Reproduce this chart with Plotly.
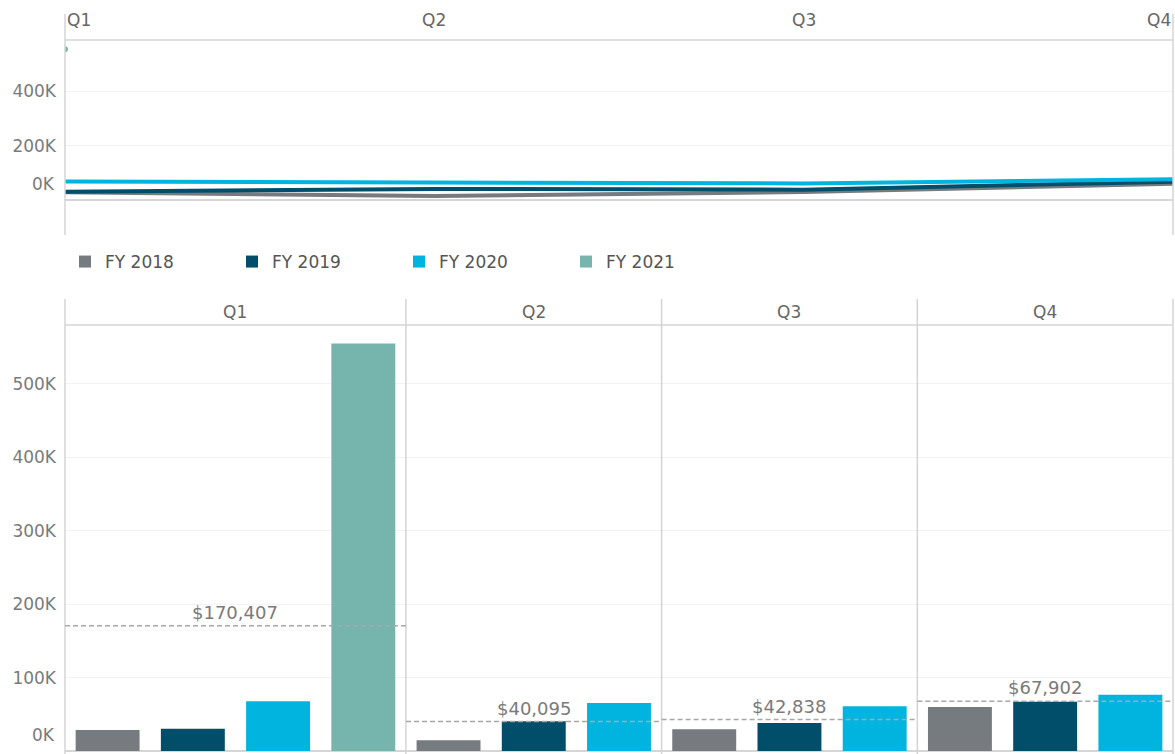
import plotly.graph_objects as go

# ---------------- data ----------------
quarters = ["Q1", "Q2", "Q3", "Q4"]
years = ["FY 2018", "FY 2019", "FY 2020", "FY 2021"]
fy2018 = [28600, 14500, 29500, 60000]
fy2019 = [30400, 40500, 38000, 67000]
fy2020 = [67700, 65300, 61000, 76700]
fy2021 = [554900, None, None, None]
quarter_avg = [170407, 40095, 42838, 67902]

top_ticks = [0, 200000, 400000]
bottom_ticks = [0, 100000, 200000, 300000, 400000, 500000]

colors = ["#767b80", "#004e6a", "#00b4e0", "#76b5ae"]
series = [fy2018, fy2019, fy2020, fy2021]

FONT = "DejaVu Sans"
GRAY_TXT = "#7a7a7a"
LINE_C = "#d4d4d4"
H = 754.0


def py(px):
    return 1 - px / H


def klabel(v):
    return f"{int(v / 1000)}K"


fig = go.Figure()

# ---------------- top line chart ----------------
for name, vals, c in zip(years, series, colors):
    pts = [(q, v) for q, v in zip(quarters, vals) if v is not None]
    xs = [p[0] for p in pts]
    ys = [p[1] for p in pts]
    fig.add_trace(go.Scatter(
        x=xs, y=ys, mode="lines" if len(pts) > 1 else "markers",
        line=dict(color=c, width=4), marker=dict(color=c, size=6),
        xaxis="x", yaxis="y", showlegend=False, name=name, hoverinfo="skip"))

# ---------------- bottom bar panels ----------------
shown = set()
for qi, q in enumerate(quarters):
    n = qi + 2
    for name, vals, c in zip(years, series, colors):
        v = vals[qi]
        if v is None:
            continue
        fig.add_trace(go.Bar(
            x=[name], y=[v], marker=dict(color=c, line=dict(width=0)),
            xaxis=f"x{n}", yaxis=f"y{n}", name=name, legendgroup=name,
            showlegend=name not in shown))
        shown.add(name)

# ---------------- layout ----------------
slot_counts = [sum(1 for s in series if s[i] is not None) for i in range(4)]
total = sum(slot_counts)
bounds = [0.0]
acc = 0
for c in slot_counts:
    acc += c
    bounds.append(min(1.0, acc / total))

layout = dict(
    width=1175, height=754,
    margin=dict(l=65, r=2, t=0, b=0),
    paper_bgcolor="white", plot_bgcolor="white",
    barmode="overlay", bargap=0.25,
    font=dict(family=FONT, color=GRAY_TXT, size=17),
    legend=dict(orientation="h", x=0.0, xanchor="left", y=py(262), yanchor="middle",
                entrywidth=122, entrywidthmode="pixels",
                font=dict(family=FONT, size=17, color="#555555"),
                itemclick=False, itemdoubleclick=False),
    xaxis=dict(domain=[0, 1], anchor="y", type="category", categoryarray=quarters,
               range=[0, 3], showticklabels=False, showgrid=False,
               zeroline=False, showline=False),
    yaxis=dict(domain=[py(235), py(40)], range=[-129000, 589000],
               tickvals=top_ticks, ticktext=["" if v == 0 else klabel(v) for v in top_ticks],
               ticks="", ticklabelstandoff=8, showgrid=True, gridcolor="#f2f2f2",
               zeroline=True, zerolinecolor="#d6d6d6", zerolinewidth=2,
               showline=False, tickfont=dict(size=17, color=GRAY_TXT)),
)

for qi, q in enumerate(quarters):
    n = qi + 2
    cats = [y for y, s in zip(years, series) if s[qi] is not None]
    layout[f"xaxis{n}"] = dict(
        domain=[bounds[qi], bounds[qi + 1]], anchor=f"y{n}", type="category",
        categoryarray=cats, range=[-0.5, len(cats) - 0.5],
        showticklabels=False, showgrid=False, zeroline=False, showline=False)
    ya = dict(domain=[py(751), py(325)], range=[0, 580000], anchor=f"x{n}",
              tickvals=bottom_ticks,
              ticktext=["" if v == 0 else klabel(v) for v in bottom_ticks],
              ticks="", ticklabelstandoff=8, showgrid=True, gridcolor="#f2f2f2",
              zeroline=True, zerolinecolor="#d6d6d6", zerolinewidth=2,
              showline=False, showticklabels=(n == 2),
              tickfont=dict(size=17, color=GRAY_TXT))
    if n > 2:
        ya["matches"] = "y2"
    layout[f"yaxis{n}"] = ya

fig.update_layout(**layout)

# ---------------- frame lines ----------------
line_style = dict(color=LINE_C, width=1.5)
shapes = []
# top chart frame
shapes.append(dict(type="line", xref="paper", yref="paper", x0=0, x1=0,
                   y0=py(235), y1=py(14), line=line_style))
shapes.append(dict(type="line", xref="paper", yref="paper", x0=1, x1=1,
                   y0=py(235), y1=py(14), line=line_style))
shapes.append(dict(type="line", xref="paper", yref="paper", x0=0, x1=1,
                   y0=py(40), y1=py(40), line=line_style))
# bottom panel separators and header line
for b in bounds:
    shapes.append(dict(type="line", xref="paper", yref="paper", x0=b, x1=b,
                       y0=py(754), y1=py(299), line=line_style))
shapes.append(dict(type="line", xref="paper", yref="paper", x0=0, x1=1,
                   y0=py(325), y1=py(325), line=line_style))
# average reference lines
for qi, avg in enumerate(quarter_avg):
    n = qi + 2
    shapes.append(dict(type="line", xref=f"x{n} domain", yref=f"y{n}",
                       x0=0, x1=1, y0=avg, y1=avg,
                       line=dict(color="#a8a8a8", width=1.5, dash="5px,3px"),
                       layer="above"))
fig.update_layout(shapes=shapes)

# ---------------- text ----------------
ann = []
anchors = ["left", "center", "center", "right"]
for q, a in zip(quarters, anchors):
    ann.append(dict(x=q, xref="x", y=py(20), yref="paper", text=q, showarrow=False,
                    xanchor=a, yanchor="middle",
                    font=dict(family=FONT, size=17, color="#666666")))
for qi, q in enumerate(quarters):
    n = qi + 2
    ann.append(dict(x=0.5, xref=f"x{n} domain", y=py(312), yref="paper", text=q,
                    showarrow=False, xanchor="center", yanchor="middle",
                    font=dict(family=FONT, size=17, color="#666666")))
    avg = quarter_avg[qi]
    ann.append(dict(x=0.5, xref=f"x{n} domain", y=avg, yref=f"y{n}",
                    text=f"${avg:,}", showarrow=False, xanchor="center",
                    yanchor="bottom", yshift=1,
                    font=dict(family=FONT, size=18, color=GRAY_TXT)))
# zero labels, drawn just above the zero line as in the reference
ann.append(dict(x=0, xref="paper", y=0, yref="y", text=klabel(0), showarrow=False,
                xanchor="right", yanchor="bottom", xshift=-8, yshift=4,
                font=dict(family=FONT, size=17, color=GRAY_TXT)))
ann.append(dict(x=0, xref="paper", y=0, yref="y2", text=klabel(0), showarrow=False,
                xanchor="right", yanchor="bottom", xshift=-8, yshift=4,
                font=dict(family=FONT, size=17, color=GRAY_TXT)))
fig.update_layout(annotations=ann)

fig.write_html(
    "out.html",
    config={"displayModeBar": False},
    post_script="document.body.style.margin='0';document.body.style.overflow='hidden';",
)
